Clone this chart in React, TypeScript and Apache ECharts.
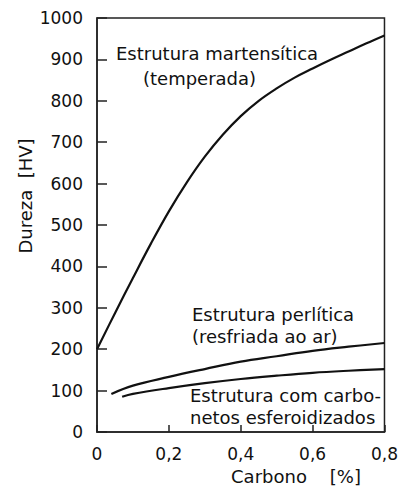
import React, { useEffect, useRef } from "react";
import * as echarts from "echarts";

const martensiteX = [0, 0.05, 0.1, 0.15, 0.2, 0.25, 0.3, 0.35, 0.4, 0.45, 0.5, 0.55, 0.6, 0.65, 0.7, 0.75, 0.8];
const martensiteY = [200, 287, 372, 455, 533, 603, 665, 718, 763, 800, 830, 856, 878, 899, 919, 939, 958];

const pearliteX = [0.04, 0.1, 0.2, 0.3, 0.4, 0.5, 0.6, 0.7, 0.8];
const pearliteY = [92, 112, 133, 152, 170, 183, 196, 206, 215];

const spheroX = [0.07, 0.1, 0.2, 0.3, 0.4, 0.5, 0.6, 0.7, 0.8];
const spheroY = [85, 92, 106, 118, 128, 136, 143, 148, 152];

const yTicks = { min: 0, max: 1000, interval: 100 };
const xTicks = { min: 0, max: 0.8, interval: 0.2 };

const FONT = "DejaVu Sans";

function pairs(xs: number[], ys: number[]) {
  return xs.map((x, i) => [x, ys[i]]);
}

export default function App() {
  const ref = useRef<HTMLDivElement>(null);
  useEffect(() => {
    if (!ref.current) return;
    const chart = echarts.init(ref.current, null, { renderer: "svg" });
    const lineStyle = { color: "#111", width: 2.2 };
    const txt = (text: string, x: number, y: number, extra: any = {}) => ({
      type: "text",
      x,
      y,
      style: {
        text,
        fill: "#111",
        font: `18px "${FONT}"`,
        textAlign: "left",
        textVerticalAlign: "middle",
        ...extra,
      },
    });
    chart.setOption({
      animation: false,
      grid: {
        left: 97,
        right: 13,
        top: 18,
        bottom: 63,
        show: true,
        borderColor: "#222",
        borderWidth: 1.5,
        backgroundColor: "transparent",
      },
      xAxis: {
        type: "value",
        min: xTicks.min,
        max: xTicks.max,
        interval: xTicks.interval,
        axisLine: { show: true, lineStyle: { color: "#222", width: 1.5 } },
        axisTick: { show: true, inside: true, length: 7, lineStyle: { color: "#222", width: 1.5 } },
        splitLine: { show: false },
        axisLabel: {
          color: "#111",
          fontFamily: FONT,
          fontSize: 17,
          margin: 13,
          formatter: (v: number) => (v === 0 ? "0" : v.toFixed(1).replace(".", ",")),
        },
      },
      yAxis: {
        type: "value",
        min: yTicks.min,
        max: yTicks.max,
        interval: yTicks.interval,
        axisLine: { show: true, lineStyle: { color: "#222", width: 1.5 } },
        axisTick: { show: true, inside: true, length: 10, lineStyle: { color: "#222", width: 1.5 } },
        splitLine: { show: false },
        axisLabel: {
          color: "#111",
          fontFamily: FONT,
          fontSize: 17,
          margin: 14,
          formatter: (v: number) => String(Math.round(v)),
        },
      },
      series: [
        { type: "line", data: pairs(martensiteX, martensiteY), smooth: 0.4, symbol: "none", lineStyle },
        { type: "line", data: pairs(pearliteX, pearliteY), smooth: 0.4, symbol: "none", lineStyle },
        { type: "line", data: pairs(spheroX, spheroY), smooth: 0.4, symbol: "none", lineStyle },
      ],
      graphic: [
        txt("Estrutura martensítica", 116, 53),
        txt("(temperada)", 143, 78),
        txt("Estrutura perlítica", 192, 314),
        txt("(resfriada ao ar)", 192, 336),
        txt("Estrutura com carbo-", 190, 395),
        txt("netos esferoidizados", 190, 417),
        txt("Carbono    [%]", 296, 476, { textAlign: "center" }),
        {
          type: "text",
          x: 25,
          y: 196,
          rotation: Math.PI / 2,
          style: {
            text: "Dureza  [HV]",
            fill: "#111",
            font: `18px "${FONT}"`,
            textAlign: "center",
            textVerticalAlign: "middle",
          },
        },
      ],
    });
    return () => chart.dispose();
  }, []);
  return (
    <div
      ref={ref}
      style={{ position: "fixed", left: 0, top: 0, width: 401, height: 495, background: "#fff" }}
    />
  );
}
